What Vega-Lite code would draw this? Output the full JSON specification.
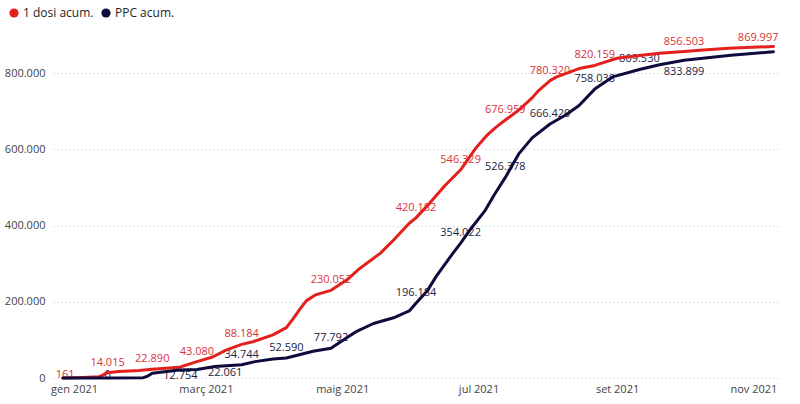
{
  "$schema": "https://vega.github.io/schema/vega-lite/v6.json",
  "width": 727,
  "height": 343,
  "autosize": {"type": "none"},
  "padding": {"left": 53, "top": 35, "right": 20, "bottom": 26},
  "background": "white",
  "config": {
    "locale": {"number": {"decimal": ",", "thousands": ".", "grouping": [3], "currency": ["", " €"]}},
    "view": {"stroke": null},
    "font": "Open Sans"
  },
  "datasets": {
    "vacunes": [
      {"dia": "2020-12-27", "serie": "1 dosi acum.", "valor": 60},
      {"dia": "2020-12-28", "serie": "1 dosi acum.", "valor": 161},
      {"dia": "2021-01-05", "serie": "1 dosi acum.", "valor": 1500},
      {"dia": "2021-01-12", "serie": "1 dosi acum.", "valor": 3400},
      {"dia": "2021-01-13", "serie": "1 dosi acum.", "valor": 5000},
      {"dia": "2021-01-16", "serie": "1 dosi acum.", "valor": 14015},
      {"dia": "2021-01-21", "serie": "1 dosi acum.", "valor": 17000},
      {"dia": "2021-01-30", "serie": "1 dosi acum.", "valor": 19500},
      {"dia": "2021-02-05", "serie": "1 dosi acum.", "valor": 22890},
      {"dia": "2021-02-17", "serie": "1 dosi acum.", "valor": 28000},
      {"dia": "2021-02-25", "serie": "1 dosi acum.", "valor": 43080},
      {"dia": "2021-03-04", "serie": "1 dosi acum.", "valor": 55000},
      {"dia": "2021-03-10", "serie": "1 dosi acum.", "valor": 73000},
      {"dia": "2021-03-17", "serie": "1 dosi acum.", "valor": 88184},
      {"dia": "2021-03-22", "serie": "1 dosi acum.", "valor": 95000},
      {"dia": "2021-03-31", "serie": "1 dosi acum.", "valor": 113000},
      {"dia": "2021-04-06", "serie": "1 dosi acum.", "valor": 132000},
      {"dia": "2021-04-09", "serie": "1 dosi acum.", "valor": 155000},
      {"dia": "2021-04-12", "serie": "1 dosi acum.", "valor": 180000},
      {"dia": "2021-04-15", "serie": "1 dosi acum.", "valor": 203000},
      {"dia": "2021-04-19", "serie": "1 dosi acum.", "valor": 218000},
      {"dia": "2021-04-26", "serie": "1 dosi acum.", "valor": 230052},
      {"dia": "2021-05-03", "serie": "1 dosi acum.", "valor": 257000},
      {"dia": "2021-05-09", "serie": "1 dosi acum.", "valor": 288000},
      {"dia": "2021-05-18", "serie": "1 dosi acum.", "valor": 327000},
      {"dia": "2021-05-24", "serie": "1 dosi acum.", "valor": 362000},
      {"dia": "2021-05-31", "serie": "1 dosi acum.", "valor": 406000},
      {"dia": "2021-06-03", "serie": "1 dosi acum.", "valor": 420182},
      {"dia": "2021-06-09", "serie": "1 dosi acum.", "valor": 458000},
      {"dia": "2021-06-16", "serie": "1 dosi acum.", "valor": 505000},
      {"dia": "2021-06-23", "serie": "1 dosi acum.", "valor": 546329},
      {"dia": "2021-06-30", "serie": "1 dosi acum.", "valor": 605000},
      {"dia": "2021-07-05", "serie": "1 dosi acum.", "valor": 638000},
      {"dia": "2021-07-09", "serie": "1 dosi acum.", "valor": 659000},
      {"dia": "2021-07-13", "serie": "1 dosi acum.", "valor": 676959},
      {"dia": "2021-07-19", "serie": "1 dosi acum.", "valor": 703000},
      {"dia": "2021-07-25", "serie": "1 dosi acum.", "valor": 735000},
      {"dia": "2021-07-28", "serie": "1 dosi acum.", "valor": 755000},
      {"dia": "2021-08-02", "serie": "1 dosi acum.", "valor": 780320},
      {"dia": "2021-08-05", "serie": "1 dosi acum.", "valor": 790000},
      {"dia": "2021-08-15", "serie": "1 dosi acum.", "valor": 812000},
      {"dia": "2021-08-22", "serie": "1 dosi acum.", "valor": 820159},
      {"dia": "2021-09-01", "serie": "1 dosi acum.", "valor": 839000},
      {"dia": "2021-09-11", "serie": "1 dosi acum.", "valor": 846000},
      {"dia": "2021-09-20", "serie": "1 dosi acum.", "valor": 852000},
      {"dia": "2021-10-01", "serie": "1 dosi acum.", "valor": 856503},
      {"dia": "2021-10-08", "serie": "1 dosi acum.", "valor": 860000},
      {"dia": "2021-10-21", "serie": "1 dosi acum.", "valor": 865000},
      {"dia": "2021-11-10", "serie": "1 dosi acum.", "valor": 869997},
      {"dia": "2020-12-27", "serie": "PPC acum.", "valor": 0},
      {"dia": "2021-01-16", "serie": "PPC acum.", "valor": 0},
      {"dia": "2021-02-01", "serie": "PPC acum.", "valor": 800},
      {"dia": "2021-02-03", "serie": "PPC acum.", "valor": 5000},
      {"dia": "2021-02-05", "serie": "PPC acum.", "valor": 12754},
      {"dia": "2021-02-17", "serie": "PPC acum.", "valor": 21000},
      {"dia": "2021-02-25", "serie": "PPC acum.", "valor": 22061},
      {"dia": "2021-03-05", "serie": "PPC acum.", "valor": 30000},
      {"dia": "2021-03-17", "serie": "PPC acum.", "valor": 34744},
      {"dia": "2021-03-23", "serie": "PPC acum.", "valor": 43000},
      {"dia": "2021-03-31", "serie": "PPC acum.", "valor": 50000},
      {"dia": "2021-04-06", "serie": "PPC acum.", "valor": 52590},
      {"dia": "2021-04-18", "serie": "PPC acum.", "valor": 70000},
      {"dia": "2021-04-26", "serie": "PPC acum.", "valor": 77792},
      {"dia": "2021-05-01", "serie": "PPC acum.", "valor": 98000},
      {"dia": "2021-05-07", "serie": "PPC acum.", "valor": 121000},
      {"dia": "2021-05-15", "serie": "PPC acum.", "valor": 143000},
      {"dia": "2021-05-24", "serie": "PPC acum.", "valor": 158000},
      {"dia": "2021-05-31", "serie": "PPC acum.", "valor": 176000},
      {"dia": "2021-06-03", "serie": "PPC acum.", "valor": 196184},
      {"dia": "2021-06-08", "serie": "PPC acum.", "valor": 228000},
      {"dia": "2021-06-12", "serie": "PPC acum.", "valor": 266000},
      {"dia": "2021-06-19", "serie": "PPC acum.", "valor": 323000},
      {"dia": "2021-06-23", "serie": "PPC acum.", "valor": 354022},
      {"dia": "2021-06-28", "serie": "PPC acum.", "valor": 395000},
      {"dia": "2021-07-04", "serie": "PPC acum.", "valor": 440000},
      {"dia": "2021-07-08", "serie": "PPC acum.", "valor": 480000},
      {"dia": "2021-07-13", "serie": "PPC acum.", "valor": 526378},
      {"dia": "2021-07-19", "serie": "PPC acum.", "valor": 588000},
      {"dia": "2021-07-25", "serie": "PPC acum.", "valor": 630000},
      {"dia": "2021-08-02", "serie": "PPC acum.", "valor": 666420},
      {"dia": "2021-08-09", "serie": "PPC acum.", "valor": 690000},
      {"dia": "2021-08-15", "serie": "PPC acum.", "valor": 715000},
      {"dia": "2021-08-22", "serie": "PPC acum.", "valor": 758038},
      {"dia": "2021-08-30", "serie": "PPC acum.", "valor": 790000},
      {"dia": "2021-09-11", "serie": "PPC acum.", "valor": 809530},
      {"dia": "2021-09-20", "serie": "PPC acum.", "valor": 822000},
      {"dia": "2021-10-01", "serie": "PPC acum.", "valor": 833899},
      {"dia": "2021-10-22", "serie": "PPC acum.", "valor": 847000},
      {"dia": "2021-11-10", "serie": "PPC acum.", "valor": 856000}
    ]
  },
  "data": {"name": "vacunes"},
  "encoding": {
    "x": {
      "field": "dia",
      "type": "temporal",
      "title": null,
      "scale": {
        "type": "utc",
        "domain": [
          {"year": 2020, "month": 12, "date": 22, "hours": 14, "utc": true},
          {"year": 2021, "month": 11, "date": 12, "hours": 22, "utc": true}
        ]
      },
      "axis": {
        "values": [
          {"year": 2021, "month": 1, "date": 1, "utc": true},
          {"year": 2021, "month": 3, "date": 1, "utc": true},
          {"year": 2021, "month": 5, "date": 1, "utc": true},
          {"year": 2021, "month": 7, "date": 1, "utc": true},
          {"year": 2021, "month": 9, "date": 1, "utc": true},
          {"year": 2021, "month": 11, "date": 1, "utc": true}
        ],
        "labelExpr": "['gen','febr','març','abr','maig','juny','jul','ag','set','oct','nov','des'][utcmonth(datum.value)] + ' ' + utcyear(datum.value)",
        "domain": false,
        "ticks": false,
        "grid": false,
        "labelPadding": 5,
        "labelFontSize": 11,
        "labelColor": "#444444"
      }
    },
    "y": {
      "field": "valor",
      "type": "quantitative",
      "title": null,
      "scale": {"domain": [0, 900000]},
      "axis": {
        "values": [0, 200000, 400000, 600000, 800000],
        "format": ",d",
        "domain": false,
        "ticks": false,
        "grid": true,
        "gridDash": [1, 3],
        "gridColor": "#c4c4c4",
        "labelPadding": 8,
        "labelFontSize": 11,
        "labelColor": "#444444"
      }
    }
  },
  "layer": [
    {
      "transform": [{"filter": "datum.serie == '1 dosi acum.' && indexof([14015, 22890, 43080, 88184, 230052, 420182, 546329, 676959, 780320, 820159, 856503], datum.valor) >= 0"}],
      "mark": {"type": "text", "fontSize": 11, "color": "#D9323A", "baseline": "bottom", "dy": -5},
      "encoding": {"text": {"field": "valor", "type": "quantitative", "format": ",d"}}
    },
    {
      "transform": [{"filter": "datum.serie == '1 dosi acum.' && datum.valor == 161"}],
      "mark": {"type": "text", "fontSize": 11, "color": "#D9323A", "baseline": "middle", "dy": -3},
      "encoding": {"text": {"field": "valor", "type": "quantitative", "format": ",d"}}
    },
    {
      "transform": [{"filter": "datum.serie == '1 dosi acum.' && datum.valor == 869997"}],
      "mark": {"type": "text", "fontSize": 11, "color": "#D9323A", "baseline": "bottom", "align": "right", "dx": 5, "dy": -3},
      "encoding": {"text": {"field": "valor", "type": "quantitative", "format": ",d"}}
    },
    {
      "transform": [{"filter": "datum.serie == 'PPC acum.' && indexof([34744, 52590, 77792, 196184, 354022, 526378, 666420, 758038, 809530], datum.valor) >= 0"}],
      "mark": {"type": "text", "fontSize": 11, "color": "#22223F", "baseline": "bottom", "dy": -5},
      "encoding": {"text": {"field": "valor", "type": "quantitative", "format": ",d"}}
    },
    {
      "transform": [{"filter": "datum.serie == 'PPC acum.' && datum.valor == 833899"}],
      "mark": {"type": "text", "fontSize": 11, "color": "#22223F", "baseline": "top", "dy": 6},
      "encoding": {"text": {"field": "valor", "type": "quantitative", "format": ",d"}}
    },
    {
      "transform": [{"filter": "datum.serie == 'PPC acum.' && indexof([12754, 22061], datum.valor) >= 0"}],
      "mark": {"type": "text", "fontSize": 11, "color": "#22223F", "baseline": "middle", "align": "left", "dx": 11, "dy": 3},
      "encoding": {"text": {"field": "valor", "type": "quantitative", "format": ",d"}}
    },
    {
      "transform": [{"filter": "datum.serie == 'PPC acum.' && datum.valor == 0 && utcdate(datum.dia) == 16"}],
      "mark": {"type": "text", "fontSize": 11, "color": "#22223F", "baseline": "middle", "dy": -3},
      "encoding": {"text": {"field": "valor", "type": "quantitative", "format": ",d"}}
    },
    {
      "mark": {"type": "line", "strokeWidth": 3, "strokeCap": "round", "strokeJoin": "round"},
      "encoding": {
        "color": {
          "field": "serie",
          "type": "nominal",
          "scale": {"domain": ["1 dosi acum.", "PPC acum."], "range": ["#E3201B", "#0E0C3D"]},
          "legend": {
            "title": null,
            "orient": "none",
            "direction": "horizontal",
            "legendX": -45,
            "legendY": -28,
            "padding": 0,
            "symbolType": "circle",
            "symbolSize": 85,
            "symbolStrokeWidth": 0,
            "labelFontSize": 12,
            "labelColor": "#252423",
            "labelOffset": 3,
            "columnPadding": 6,
            "encode": {"symbols": {"update": {"fill": {"scale": "color", "field": "value"}, "strokeWidth": {"value": 0}}}}
          }
        }
      }
    }
  ]
}
